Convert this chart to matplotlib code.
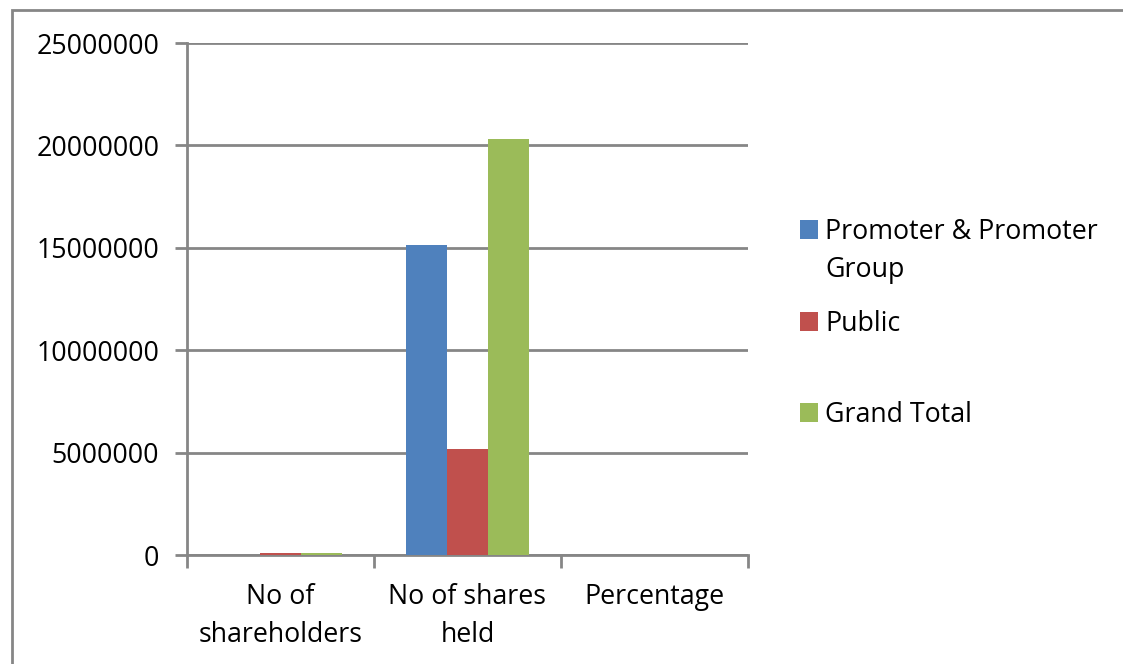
import matplotlib.pyplot as plt
import matplotlib.patches as mpatches
import numpy as np

# data
categories = ['No of\nshareholders', 'No of shares\nheld', 'Percentage']
series_names = ['Promoter & Promoter\nGroup', 'Public', 'Grand Total']
promoter = [10, 15130000, 74.6]
public = [80000, 5180000, 25.4]
grand_total = [80010, 20310000, 100]
y_ticks = [0, 5000000, 10000000, 15000000, 20000000, 25000000]

colors = ['#4F81BD', '#C0504D', '#9BBB59']
grid_col = '#868686'

plt.rcParams['font.family'] = ['Open Sans', 'DejaVu Sans']
FS = 19.3

W, H = 1123, 664
fig = plt.figure(figsize=(W/100, H/100), dpi=100)
ax = fig.add_axes([187/W, 1-555/H, (748-187)/W, (555-43)/H])

# figure border (only top and left are inside the picture)
fig.add_artist(mpatches.Rectangle((12/W, -0.05), 1.2, 1-10/H+0.05,
                                  transform=fig.transFigure, fill=False,
                                  edgecolor=grid_col, linewidth=2))

x = np.arange(len(categories))
w = 0.22
for i, vals in enumerate([promoter, public, grand_total]):
    ax.bar(x + (i-1)*w, vals, w, color=colors[i], label=series_names[i], zorder=3)

ax.set_xlim(-0.5, 2.5)
ax.set_ylim(0, 25000000)
ax.set_yticks(y_ticks)
ax.set_yticklabels([str(v) for v in y_ticks])
ax.yaxis.grid(True, color=grid_col, linewidth=2)
ax.set_axisbelow(True)

ax.set_xticks(x)
ax.set_xticklabels(categories)
ax.set_xticks([-0.5, 0.5, 1.5, 2.5], minor=True)
ax.tick_params(axis='x', which='major', length=0, pad=20, labelsize=FS)
ax.tick_params(axis='x', which='minor', length=9, width=2, color=grid_col)
ax.tick_params(axis='y', length=9, width=2, color=grid_col, pad=11, labelsize=FS)
for lab in ax.get_xticklabels():
    lab.set_linespacing(1.5)

for s in ['top', 'right']:
    ax.spines[s].set_visible(False)
for s in ['left', 'bottom']:
    ax.spines[s].set_color(grid_col)
    ax.spines[s].set_linewidth(2)

# legend, laid out like the Excel one (square next to first line of each entry)
first_line_y = [229, 321, 412]
for i, name in enumerate(series_names):
    yc = first_line_y[i]
    fig.add_artist(mpatches.Rectangle((800/W, 1-(yc+10)/H), 18/W, 19/H,
                                      transform=fig.transFigure,
                                      facecolor=colors[i], edgecolor='none'))
    fig.text(825/W, 1-(yc-11)/H, name, fontsize=FS, va='top', ha='left',
             linespacing=1.47)

fig.savefig('out.png', dpi=100)
